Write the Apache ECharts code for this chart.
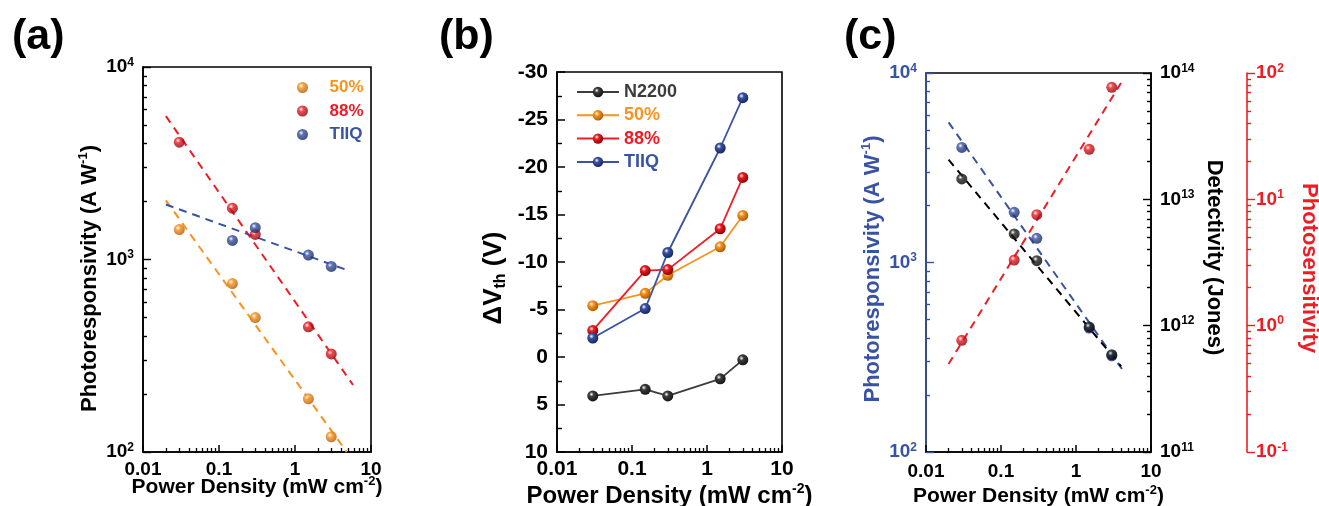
<!DOCTYPE html>
<html><head><meta charset="utf-8">
<script src="https://cdn.jsdelivr.net/npm/echarts@6/dist/echarts.min.js"></script>
<style>html,body{margin:0;padding:0;background:#fff}#c{width:1319px;height:506px}</style>
</head><body><div id="c"></div>
<script>
// ---------- data ----------
const powerDensity = [0.03, 0.15, 0.3, 1.5, 3];
// (a) photoresponsivity (A W^-1)
const respA50 = [1430, 750, 499, 189, 120];
const respA88 = [4070, 1848, 1350, 447, 323];
const respATIIQ = [null, 1257, 1463, 1055, 920];
const fitA50 = [[0.02, 2030], [4.8, 100]];
const fitA88 = [[0.02, 5560], [5.8, 223]];
const fitATIIQ = [[0.02, 1930], [5.0, 877]];
// (b) delta Vth (V)
const dvN2200 = [4.1, 3.4, 4.1, 2.3, 0.3];
const dv50 = [-5.4, -6.7, -8.6, -11.6, -14.9];
const dv88 = [-2.8, -9.1, -9.2, -13.5, -18.9];
const dvTIIQ = [-2.0, -5.1, -11.0, -22.0, -27.3];
// (c)
const respC = [4050, 1840, 1342, 451, 322];
const detectivity = [1.45e13, 5.32e12, 3.27e12, 9.77e11, 5.89e11];
const photosensitivity = [0.766, 3.31, 7.56, 24.9, 77.0];
const fitResp = [[0.02, 5490], [4.1, 274]];
const fitDet = [[0.02, 2.06e13], [4.0, 4.77e11]];
const fitSens = [[0.02, 0.497], [3.98, 83.4]];
// tick labels
const xTickLabels = ['0.01', '0.1', '1', '10'];
const legendA = ['50%', '88%', 'TIIQ'];
const legendB = ['N2200', '50%', '88%', 'TIIQ'];

// ---------- styles ----------
const F = "'Liberation Sans', Arial, Helvetica, sans-serif";
const ORANGE = '#F7931E', RED = '#EE1D23', BLUE = '#3953A4', GREY = '#3C3C3C', BLACK = '#000';
function ball(c, dark) {
  return {type: 'radial', x: 0.38, y: 0.35, r: 0.7,
    colorStops: [{offset: 0, color: '#ffffff'}, {offset: 0.3, color: c}, {offset: 1, color: dark}]};
}
function pair(xs, ys) { return xs.map((x, i) => ys[i] == null ? null : [x, ys[i]]).filter(Boolean); }
function minors(lo, hi) {
  const out = [];
  for (let d = lo; d < hi; d++) for (let k = 2; k <= 9; k++) out.push(+(k * Math.pow(10, d)).toPrecision(3));
  return out;
}
function richSup(fs, ss, color) {
  return {
    b: {fontSize: fs, fontWeight: 'bold', fontFamily: F, color: color, lineHeight: fs + 2},
    s: {fontSize: ss, fontWeight: 'bold', fontFamily: F, color: color, verticalAlign: 'top', lineHeight: ss + 1}
  };
}
function richName(fs, ss, color) {
  return {
    t: {fontSize: fs, fontWeight: 'bold', fontFamily: F, color: color, lineHeight: fs + 4},
    s: {fontSize: ss, fontWeight: 'bold', fontFamily: F, color: color, verticalAlign: 'top', lineHeight: ss + 1},
    u: {fontSize: ss, fontWeight: 'bold', fontFamily: F, color: color, verticalAlign: 'bottom', lineHeight: ss + 1}
  };
}
const logFmt = v => '{b|10}{s|' + Math.round(Math.log10(v)) + '}';
const xFmt = v => xTickLabels[Math.round(Math.log10(v)) + 2];

function majorX(grid, fs, margin, nameFs, nameGap) {
  return {
    type: 'log', logBase: 10, gridIndex: grid, min: 0.01, max: 10, position: 'bottom',
    axisLine: {show: true, onZero: false, lineStyle: {color: BLACK, width: 1.6}},
    axisTick: {show: true, inside: true, length: 7, lineStyle: {color: BLACK, width: 1.5}, customValues: [0.01, 0.1, 1, 10]},
    axisLabel: {show: true, margin: margin, formatter: xFmt, fontSize: fs, fontWeight: 'bold', fontFamily: F, color: BLACK,
      customValues: [0.01, 0.1, 1, 10]},
    splitLine: {show: false}, minorTick: {show: false},
    name: '{t|Power Density (mW cm}{s|-2}{t|)}', nameLocation: 'middle', nameGap: nameGap, nameMoveOverlap: false,
    nameTextStyle: {rich: richName(nameFs, Math.round(nameFs * 0.6), BLACK)}
  };
}
function minorX(grid) {
  return {
    type: 'log', logBase: 10, gridIndex: grid, min: 0.01, max: 10, position: 'bottom',
    axisLine: {show: false, onZero: false}, axisLabel: {show: false}, splitLine: {show: false},
    axisTick: {show: true, inside: true, length: 4, lineStyle: {color: BLACK, width: 1.3}, customValues: minors(-2, 1)}
  };
}
function logY(grid, lo, hi, pos, color, inside, offset, major) {
  const majors = [];
  for (let d = lo; d <= hi; d++) majors.push(Math.pow(10, d));
  return {
    type: 'log', logBase: 10, gridIndex: grid, min: Math.pow(10, lo), max: Math.pow(10, hi), position: pos, offset: offset,
    axisLine: {show: major, onZero: false, lineStyle: {color: color, width: 1.6}},
    axisTick: {show: true, inside: inside, length: major ? 8 : 4, lineStyle: {color: color, width: 1.4},
      customValues: major ? majors : minors(lo, hi)},
    axisLabel: major ? {show: true, margin: 9, formatter: logFmt, rich: richSup(19, 12, color), customValues: majors}
                     : {show: false},
    splitLine: {show: false}
  };
}

const xAxis = [
  majorX(0, 19, 8, 21, 23), minorX(0),
  majorX(1, 21, 7, 24, 30), minorX(1),
  majorX(2, 19, 10, 21, 32), minorX(2)
];
const yA = logY(0, 2, 4, 'left', BLACK, true, 0, true);
Object.assign(yA, {name: '{t|Photoresponsivity (A W}{s|-1}{t|)}', nameLocation: 'middle', nameGap: 40,
  nameTextStyle: {rich: richName(22, 13, BLACK), padding: [0, 38, 0, 0]}});
const yB = {
  type: 'value', gridIndex: 1, min: -30, max: 10, interval: 5, inverse: true, position: 'left',
  axisLine: {show: true, onZero: false, lineStyle: {color: BLACK, width: 1.6}},
  axisTick: {show: true, inside: true, length: 8, lineStyle: {color: BLACK, width: 1.5}},
  minorTick: {show: true, splitNumber: 2, length: 5, lineStyle: {color: BLACK, width: 1.4}},
  axisLabel: {margin: 9, fontSize: 21, fontWeight: 'bold', fontFamily: F, color: BLACK},
  splitLine: {show: false}, minorSplitLine: {show: false},
  name: '{t|ΔV}{u|th}{t| (V)}', nameLocation: 'middle', nameGap: 48,
  nameTextStyle: {rich: richName(26, 16, BLACK), padding: [0, 32, 0, 0]}
};
const yCblue = logY(2, 2, 4, 'left', BLUE, true, 0, true);
Object.assign(yCblue, {name: '{t|Photoresponsivity (A W}{s|-1}{t|)}', nameLocation: 'middle', nameGap: 40,
  nameTextStyle: {rich: richName(22, 13, BLUE), padding: [0, 13, 0, 0]}});
const yCblack = logY(2, 11, 14, 'right', BLACK, true, 0, true);
Object.assign(yCblack, {name: '{t|Detectivity (Jones)}', nameLocation: 'middle', nameGap: 50, nameRotate: -90,
  nameTextStyle: {rich: richName(22, 13, BLACK), padding: [0, 10, 0, 0]}});
const yCred = logY(2, -1, 2, 'right', RED, false, 96, true);
Object.assign(yCred, {name: '{t|Photosensitivity}', nameLocation: 'middle', nameGap: 49, nameRotate: -90,
  nameTextStyle: {rich: richName(22, 13, RED), padding: [0, 0, 0, 11]}});

const yAxis = [
  yA, logY(0, 2, 4, 'left', BLACK, true, 0, false),
  yB,
  yCblue, logY(2, 2, 4, 'left', BLUE, true, 0, false),
  yCblack, logY(2, 11, 14, 'right', BLACK, true, 0, false),
  yCred, logY(2, -1, 2, 'right', RED, false, 96, false)
];

function scatter(name, xi, yi, data, c, dark) {
  return {type: 'scatter', name: name, xAxisIndex: xi, yAxisIndex: yi, data: data, symbol: 'circle', symbolSize: 11,
    itemStyle: {color: ball(c, dark)}, z: 4, silent: true};
}
function fit(name, xi, yi, data, c) {
  return {type: 'line', name: name, xAxisIndex: xi, yAxisIndex: yi, data: data, symbol: 'none', silent: true,
    lineStyle: {color: c, width: 2, type: [8, 6]}, z: 3, clip: true};
}
function lineS(name, data, c, dark) {
  return {type: 'line', name: name, xAxisIndex: 2, yAxisIndex: 2, data: data, symbol: 'circle', symbolSize: 11,
    showSymbol: true, silent: true, lineStyle: {color: c, width: 1.8}, itemStyle: {color: ball(c, dark), borderWidth: 0}, z: 4};
}

const series = [
  fit('fa50', 0, 0, fitA50, ORANGE), fit('fa88', 0, 0, fitA88, RED), fit('faT', 0, 0, fitATIIQ, BLUE),
  scatter(legendA[0], 0, 0, pair(powerDensity, respA50), ORANGE, '#A85500'),
  scatter(legendA[1], 0, 0, pair(powerDensity, respA88), RED, '#800008'),
  scatter(legendA[2], 0, 0, pair(powerDensity, respATIIQ), BLUE, '#14225A'),
  lineS('b:' + legendB[0], pair(powerDensity, dvN2200), GREY, '#111'),
  lineS('b:' + legendB[1], pair(powerDensity, dv50), ORANGE, '#A85500'),
  lineS('b:' + legendB[2], pair(powerDensity, dv88), RED, '#800008'),
  lineS('b:' + legendB[3], pair(powerDensity, dvTIIQ), BLUE, '#14225A'),
  fit('fcR', 4, 3, fitResp, BLUE), fit('fcD', 4, 5, fitDet, BLACK), fit('fcS', 4, 7, fitSens, RED),
  scatter('cR', 4, 3, pair(powerDensity, respC), BLUE, '#14225A'),
  scatter('cD', 4, 5, pair(powerDensity, detectivity), '#222', '#000'),
  scatter('cS', 4, 7, pair(powerDensity, photosensitivity), RED, '#800008')
];

const gridBase = {show: true, borderColor: BLACK, borderWidth: 1.6, backgroundColor: 'transparent', containLabel: false, outerBoundsMode: 'none'};
const titleStyle = {fontSize: 43, fontWeight: 'bold', fontFamily: F, color: BLACK};
const option = {
  animation: false,
  backgroundColor: '#fff',
  title: [
    {text: '(a)', left: 7, top: 11, textStyle: titleStyle},
    {text: '(b)', left: 434, top: 11, textStyle: titleStyle},
    {text: '(c)', left: 839, top: 11, textStyle: titleStyle}
  ],
  grid: [
    Object.assign({left: 143, top: 67, width: 228, height: 385}, gridBase),
    Object.assign({left: 557, top: 72, width: 225, height: 380}, gridBase),
    Object.assign({left: 926, top: 73, width: 225, height: 379}, gridBase)
  ],
  legend: [
    {orient: 'vertical', left: 292, top: 74, itemWidth: 44, itemHeight: 11, itemGap: 6.5, selectedMode: false,
      textStyle: {fontSize: 17, fontWeight: 'bold', fontFamily: F},
      data: [{name: legendA[0], textStyle: {color: ORANGE}}, {name: legendA[1], textStyle: {color: RED}},
             {name: legendA[2], textStyle: {color: BLUE}}]},
    {orient: 'vertical', left: 571, top: 78, itemWidth: 42, itemHeight: 13, itemGap: 5.3, selectedMode: false,
      formatter: n => n.replace('b:', ''),
      textStyle: {fontSize: 18, fontWeight: 'bold', fontFamily: F},
      data: [{name: 'b:' + legendB[0], textStyle: {color: GREY}}, {name: 'b:' + legendB[1], textStyle: {color: ORANGE}},
             {name: 'b:' + legendB[2], textStyle: {color: RED}}, {name: 'b:' + legendB[3], textStyle: {color: BLUE}}]}
  ],
  xAxis: xAxis,
  yAxis: yAxis,
  series: series
};
const chart = echarts.init(document.getElementById('c'), null, {renderer: 'canvas'});
chart.setOption(option);
</script></body></html>
